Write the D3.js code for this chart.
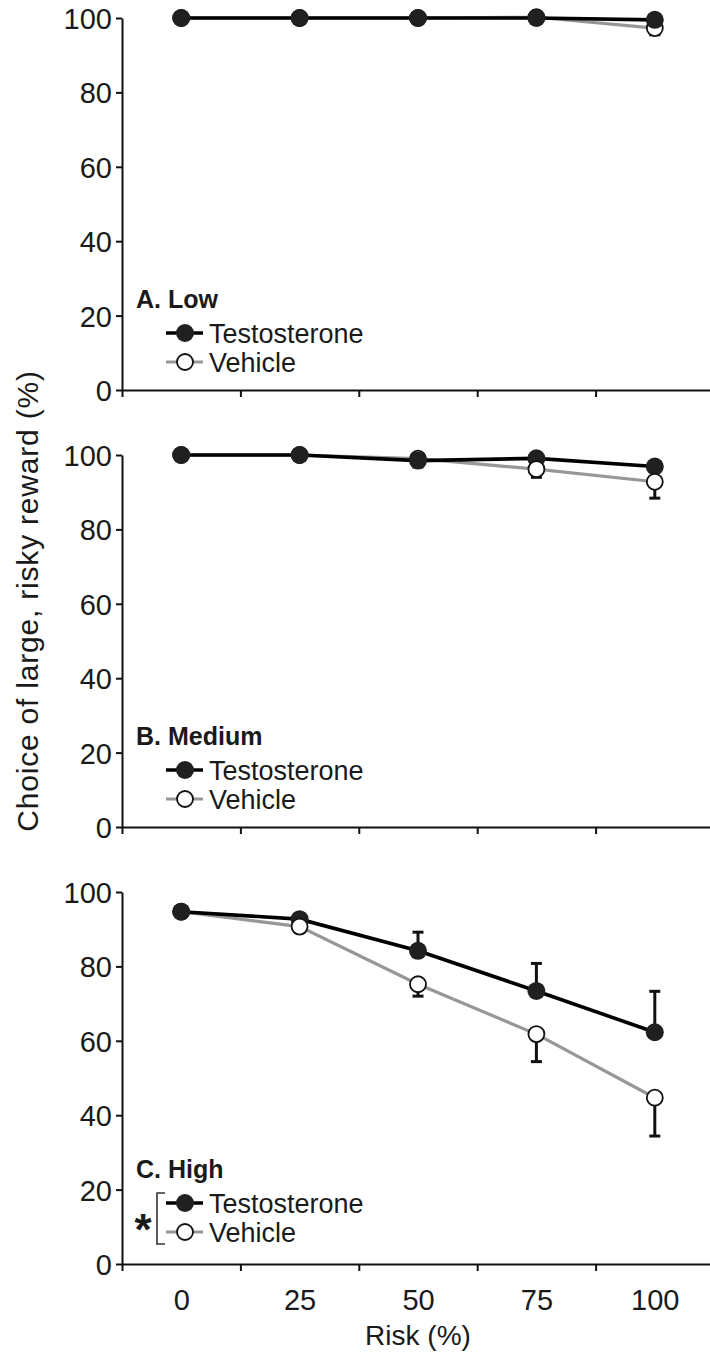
<!DOCTYPE html>
<html>
<head>
<meta charset="utf-8">
<script src="https://cdn.jsdelivr.net/npm/d3@7"></script>
<style>
  html, body { margin: 0; padding: 0; background: #fff; }
  svg { display: block; font-family: "Liberation Sans", Arial, Helvetica, sans-serif; }
</style>
</head>
<body>
<div id="chart"></div>
<script>
// Risk choice, three reward conditions, testosterone vs vehicle

// data
const riskLevels = [0, 25, 50, 75, 100];
const panelNames = ['A. Low', 'B. Medium', 'C. High'];
const seriesNames = ['Testosterone', 'Vehicle'];
const yTickValues = [0, 20, 40, 60, 80, 100];

const testoLow = [100, 100, 100, 100, 99.5];
const testoLowErr = [0, 0, 0, 0, 0.3];
const vehicleLow = [100, 100, 100, 100.2, 97.3];
const vehicleLowErr = [0, 0, 0, 0, 1.8];

const testoMedium = [100, 100, 98.5, 99.1, 96.9];
const testoMediumErr = [0, 0, 0.3, 0.3, 0.5];
const vehicleMedium = [100, 100, 99.0, 96.2, 92.8];
const vehicleMediumErr = [0, 0, 2.2, 2.2, 4.4];

const testoHigh = [94.7, 92.7, 84.2, 73.4, 62.3];
const testoHighErr = [0.5, 0.5, 5.0, 7.4, 11.0];
const vehicleHigh = [94.7, 90.7, 75.2, 61.8, 44.7];
const vehicleHighErr = [0.5, 1.5, 3.2, 7.4, 10.3];

const panels = [
    { name: panelNames[0], t: testoLow, tErr: testoLowErr, v: vehicleLow, vErr: vehicleLowErr, vehicleBelow: true },
    { name: panelNames[1], t: testoMedium, tErr: testoMediumErr, v: vehicleMedium, vErr: vehicleMediumErr },
    { name: panelNames[2], t: testoHigh, tErr: testoHighErr, v: vehicleHigh, vErr: vehicleHighErr, star: true }
];

// layout
const width = 710;
const height = 1353;
const plotTop = 18;        // y of 100 in first panel
const plotHeight = 372;    // 100 -> 0
const panelStep = 437;
const legendShift = [0, 0, -4];

const svg = d3.select('#chart').append('svg')
    .attr('width', width)
    .attr('height', height);

const x = d3.scaleLinear().domain([-12.5, 112.5]).range([122, 714]);
const binEdges = [-12.5, 12.5, 37.5, 62.5, 87.5, 112.5];

const line = (ys, y) => d3.line()
    .x((d, i) => x(riskLevels[i]))
    .y(d => y(d))(ys);

const styleT = c => c.attr('r', 9).attr('fill', '#202020');
const styleV = c => c.attr('r', 8).attr('fill', '#fff').attr('stroke', '#111').attr('stroke-width', 1.8);

panels.forEach((p, k) => {
    const top = plotTop + k * panelStep;
    const y = d3.scaleLinear().domain([0, 100]).range([top + plotHeight, top]);
    const g = svg.append('g');

    // y axis
    const yAxis = g.append('g')
        .attr('transform', `translate(${x(-12.5)},0)`)
        .call(d3.axisLeft(y).tickValues(yTickValues).tickSize(6).tickSizeOuter(0).tickPadding(4));
    yAxis.selectAll('text').attr('font-size', 29).attr('fill', '#1a1a1a').attr('font-family', null).attr('dy', '0.36em');

    // x axis: ticks at bin edges
    const xAxis = g.append('g')
        .attr('transform', `translate(0,${y(0)})`)
        .call(d3.axisBottom(x).tickValues(binEdges).tickSize(7).tickSizeOuter(0).tickFormat(''));

    [yAxis, xAxis].forEach(a => {
        a.select('.domain').attr('stroke', '#111').attr('stroke-width', 2);
        a.selectAll('.tick line').attr('stroke', '#111').attr('stroke-width', 2);
    });

    if (k === 2) {
        const lab = g.append('g')
            .attr('transform', `translate(0,${y(0)})`)
            .call(d3.axisBottom(x).tickValues(riskLevels).tickSize(0).tickPadding(25));
        lab.select('.domain').remove();
        lab.selectAll('text').attr('font-size', 29).attr('fill', '#1a1a1a').attr('font-family', null);
    }

    // lines
    g.append('path').attr('d', line(p.v, y))
        .attr('fill', 'none').attr('stroke', '#979797').attr('stroke-width', 3.2);
    g.append('path').attr('d', line(p.t, y))
        .attr('fill', 'none').attr('stroke', '#000').attr('stroke-width', 3.6);

    // error bars: testosterone upward, vehicle downward
    const bars = [];
    p.t.forEach((m, i) => { if (p.tErr[i] > 0) bars.push([riskLevels[i], m, m + p.tErr[i]]); });
    p.v.forEach((m, i) => { if (p.vErr[i] > 0) bars.push([riskLevels[i], m, m - p.vErr[i]]); });
    const eb = g.append('g').selectAll('g').data(bars).enter().append('g');
    eb.append('line')
        .attr('x1', d => x(d[0])).attr('x2', d => x(d[0]))
        .attr('y1', d => y(d[1])).attr('y2', d => y(d[2]))
        .attr('stroke', '#111').attr('stroke-width', 3);
    eb.append('line')
        .attr('x1', d => x(d[0]) - 5.5).attr('x2', d => x(d[0]) + 5.5)
        .attr('y1', d => y(d[2])).attr('y2', d => y(d[2]))
        .attr('stroke', '#111').attr('stroke-width', 3);

    // markers: lower points drawn last, testosterone wins ties
    let marks = [];
    riskLevels.forEach((r, i) => {
        marks.push({ s: 1, r, val: p.v[i] });
        marks.push({ s: 0, r, val: p.t[i] });
    });
    if (p.vehicleBelow) marks.sort((a, b) => b.s - a.s);
    else marks.sort((a, b) => (b.val - a.val) || (b.s - a.s));
    g.append('g').selectAll('circle').data(marks).enter().append('circle')
        .attr('cx', d => x(d.r)).attr('cy', d => y(d.val))
        .each(function (d) { (d.s === 0 ? styleT : styleV)(d3.select(this)); });

    // legend
    const base = y(0) + legendShift[k];
    g.append('text').attr('x', 136).attr('y', base - 82)
        .attr('font-size', 25).attr('font-weight', 'bold').attr('fill', '#1a1a1a')
        .text(p.name);
    const rows = [base - 57, base - 28];
    seriesNames.forEach((s, i) => {
        const ry = rows[i];
        g.append('line').attr('x1', 166).attr('x2', 203).attr('y1', ry).attr('y2', ry)
            .attr('stroke', i === 0 ? '#000' : '#979797').attr('stroke-width', i === 0 ? 3.6 : 3.2);
        const c = g.append('circle').attr('cx', 185).attr('cy', ry);
        (i === 0 ? styleT : styleV)(c);
        g.append('text').attr('x', 209).attr('y', ry + 9.5)
            .attr('font-size', 27).attr('fill', '#1a1a1a').text(s);
    });

    if (p.star) {
        g.append('path')
            .attr('d', `M165,${rows[0] - 10} H157 V${rows[1] + 12} H165`)
            .attr('fill', 'none').attr('stroke', '#333').attr('stroke-width', 1.6);
        g.append('text').attr('x', 143).attr('y', (rows[0] + rows[1]) / 2 + 27)
            .attr('text-anchor', 'middle').attr('font-size', 44).attr('font-weight', 'bold')
            .attr('fill', '#1a1a1a').text('*');
    }
});

// axis titles
svg.append('text')
    .attr('transform', `translate(38,${601}) rotate(-90)`)
    .attr('text-anchor', 'middle').attr('font-size', 30).attr('letter-spacing', 0.8)
    .attr('fill', '#1a1a1a')
    .text('Choice of large, risky reward (%)');

svg.append('text')
    .attr('x', x(50)).attr('y', 1345)
    .attr('text-anchor', 'middle').attr('font-size', 28).attr('fill', '#1a1a1a')
    .text('Risk (%)');
</script>
</body>
</html>
